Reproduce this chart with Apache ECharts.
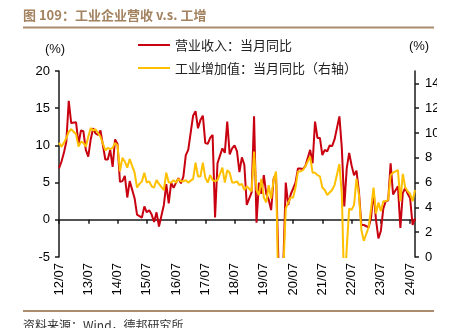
<!DOCTYPE html>
<html>
<head>
<meta charset="utf-8">
<script src="https://cdn.jsdelivr.net/npm/echarts@6/dist/echarts.min.js"></script>
<style>
  html, body { margin: 0; padding: 0; background: #fff; }
  #chart { width: 449px; height: 328px; }
</style>
</head>
<body>
<div id="chart"></div>
<script>
// Monthly categories, 2012/07 - 2024/09, labelled "YY/MM"
const months = [];
for (let y = 2012; y <= 2024; y++) {
  for (let m = 1; m <= 12; m++) {
    if (y === 2012 && m < 7) continue;
    if (y === 2024 && m > 9) break;
    months.push(String(y).slice(2) + '/' + String(m).padStart(2, '0'));
  }
}

// 营业收入：当月同比 (%), left axis; January has no separate release
const revenueYoY = [
  6.9, 7.8, 9.0, 10.5, 16.0, 13.0,
  null, 13.1, 10.2, 12.0, 11.9, 9.4, 8.5, 10.8, 12.3, 11.6, 11.4, 12.0,
  null, 8.1, 8.1, 9.4, 7.1, 10.8, 10.2, 5.1, 5.2, 5.9, 3.0, 5.2,
  null, 2.9, 0.7, 0.5, 0.3, 1.8, 1.0, 1.3, 0.7, -0.3, 1.0, -0.9,
  null, 2.0, 4.8, 2.2, 5.0, 4.3, 5.0, 5.6, 4.9, 5.8, 8.7, 9.4,
  null, 14.0, 14.6, 12.3, 13.4, 14.0, 10.3, 10.2, 11.0, 11.4, 0.3, 7.6,
  null, 9.6, 9.0, 13.2, 8.8, 9.6, 10.0, 9.2, 6.4, 8.4, 7.4, 2.0,
  null, 3.7, 13.9, -0.4, 5.0, 3.5, 6.0, 3.5, 2.7, 1.3, 5.5, 6.2,
  null, -17.7, -6.0, 5.0, 2.0, 3.4, 4.2, 5.0, 6.9, 6.9, 6.8, 7.2,
  null, 9.4, 7.6, 13.2, 11.0, 11.0, 8.7, 9.4, 9.2, 10.0, 9.9, 10.8,
  null, 13.9, 9.6, 1.8, 6.9, 9.0, 7.3, 6.0, 6.6, 3.8, -0.7, -0.7,
  null, -1.0, 0.3, 3.8, 0.0, -2.5, -1.5, 1.5, 2.5, 2.6, 7.6, 3.4,
  null, 4.5, -1.1, 3.6, 4.3, 3.5, 2.9, -0.7, 0.2
];

// 工业增加值：当月同比 (%), right axis
const valueAddedYoY = [
  9.2, 8.9, 9.2, 9.6, 10.1, 10.3,
  null, 9.9, 8.9, 9.3, 9.2, 8.9, 9.7, 10.4, 10.2, 10.3, 10.0, 9.7,
  null, 8.6, 8.8, 8.7, 8.8, 9.2, 9.0, 6.9, 8.0, 7.7, 7.2, 7.9,
  null, 6.8, 5.6, 5.9, 6.1, 6.8, 6.0, 6.1, 5.7, 5.6, 6.2, 5.9,
  null, 5.4, 6.8, 6.0, 6.0, 6.2, 6.0, 6.3, 6.1, 6.1, 6.2, 6.0,
  null, 6.3, 7.6, 6.5, 6.5, 7.6, 6.4, 6.0, 6.6, 6.2, 6.1, 6.2,
  null, 7.2, 6.0, 7.0, 6.8, 6.0, 6.0, 6.1, 5.8, 5.9, 5.4, 5.7,
  null, 5.3, 8.5, 5.4, 5.0, 6.3, 4.8, 4.4, 5.8, 4.7, 6.2, 6.9,
  null, -13.5, -1.1, 3.9, 4.4, 4.8, 4.8, 5.6, 6.9, 6.9, 7.0, 7.3,
  null, 8.1, 6.8, 6.8, 6.6, 6.5, 5.6, 5.4, 5.0, 5.2, 5.4, 5.8,
  null, 7.5, 5.0, -2.9, 0.7, 3.9, 3.8, 4.2, 6.3, 5.0, 2.2, 1.3,
  null, 2.4, 3.9, 5.6, 3.5, 4.4, 3.7, 4.5, 4.5, 4.6, 6.6, 6.8,
  null, 7.0, 4.5, 6.7, 5.6, 5.3, 5.1, 4.5, 5.4
];

const leftTicks = [-5, 0, 5, 10, 15, 20];
const rightTicks = [0, 2, 4, 6, 8, 10, 12, 14];

const seriesNames = ['营业收入：当月同比', '工业增加值：当月同比（右轴）'];
const RED = '#c8000f';
const GOLD = '#ffc000';
const BROWN = '#a3825f';
const RULE = '#ab8c6d';
const AXIS = '#1a1a1a';
const NUM_FONT = '"Liberation Sans", Arial, sans-serif';
const CJK_FONT = '"Noto Sans CJK SC", sans-serif';

const axisLine = { show: true, lineStyle: { color: AXIS, width: 1.5 } };
const axisTick = { show: true, length: 4, lineStyle: { color: AXIS, width: 1.5 } };

const chart = echarts.init(document.getElementById('chart'), null, { renderer: 'canvas' });

chart.setOption({
  animation: false,
  backgroundColor: '#fff',
  textStyle: { fontFamily: NUM_FONT },
  grid: { left: 59, right: 34, top: 71, bottom: 71, containLabel: false },
  legend: {
    orient: 'vertical',
    left: 133,
    top: 33,
    icon: 'rect',
    itemWidth: 32,
    itemHeight: 2,
    itemGap: 9,
    itemTextGap: 4,
    data: seriesNames,
    textStyle: { fontFamily: CJK_FONT, fontSize: 13, lineHeight: 14, color: '#222' }
  },
  xAxis: [
    {
      type: 'category',
      data: months,
      boundaryGap: false,
      position: 'bottom',
      axisLine: { show: false, onZero: false },
      axisTick: { show: false },
      splitLine: { show: false },
      axisLabel: { interval: 11, rotate: 90, margin: 6, fontSize: 13, color: '#000', fontFamily: NUM_FONT }
    },
    {
      type: 'category',
      data: months,
      boundaryGap: false,
      position: 'bottom',
      axisLine: { show: true, onZero: true, onZeroAxisIndex: 0, lineStyle: { color: AXIS, width: 1.5 } },
      axisTick: { show: true, interval: 11, length: 4, lineStyle: { color: AXIS, width: 1.5 } },
      axisLabel: { show: false },
      splitLine: { show: false }
    }
  ],
  yAxis: [
    {
      type: 'value',
      position: 'left',
      min: leftTicks[0],
      max: leftTicks[leftTicks.length - 1],
      interval: 5,
      axisLine: axisLine,
      axisTick: axisTick,
      splitLine: { show: false },
      axisLabel: { margin: 9, fontSize: 13, color: '#000', fontFamily: NUM_FONT }
    },
    {
      type: 'value',
      position: 'right',
      min: 0,
      max: 15,
      interval: 2,
      axisLine: axisLine,
      axisTick: Object.assign({}, axisTick, { customValues: rightTicks }),
      splitLine: { show: false },
      axisLabel: { customValues: rightTicks, margin: 10, fontSize: 13, color: '#000', fontFamily: NUM_FONT }
    }
  ],
  series: [
    {
      name: seriesNames[0],
      type: 'line',
      xAxisIndex: 0,
      yAxisIndex: 0,
      data: revenueYoY,
      symbol: 'none',
      connectNulls: true,
      clip: true,
      lineStyle: { color: RED, width: 2 },
      itemStyle: { color: RED }
    },
    {
      name: seriesNames[1],
      type: 'line',
      xAxisIndex: 0,
      yAxisIndex: 1,
      data: valueAddedYoY,
      symbol: 'none',
      connectNulls: true,
      clip: true,
      lineStyle: { color: GOLD, width: 2 },
      itemStyle: { color: GOLD }
    }
  ],
  graphic: [
    {
      type: 'text', x: 23, y: 15,
      style: { text: '图 109：工业企业营收 v.s. 工增', fill: BROWN, font: 'bold 13px ' + CJK_FONT, textVerticalAlign: 'middle' }
    },
    { type: 'rect', shape: { x: 23, y: 26.5, width: 411, height: 2 }, style: { fill: RULE } },
    { type: 'rect', shape: { x: 23, y: 310, width: 411, height: 2 }, style: { fill: RULE } },
    // right margin of the figure trims the outer edge of the right-axis labels
    { type: 'rect', z: 100, shape: { x: 437, y: 66, width: 12, height: 200 }, style: { fill: '#fff' } },
    {
      type: 'text', x: 23, y: 325,
      style: { text: '资料来源：Wind，德邦研究所', fill: '#333', font: '12px ' + CJK_FONT, textVerticalAlign: 'middle' }
    },
    {
      type: 'text', x: 55, y: 49,
      style: { text: '(%)', fill: '#111', font: '13px ' + NUM_FONT, textAlign: 'center', textVerticalAlign: 'middle' }
    },
    {
      type: 'text', x: 419, y: 46,
      style: { text: '(%)', fill: '#111', font: '13px ' + NUM_FONT, textAlign: 'center', textVerticalAlign: 'middle' }
    }
  ]
});
</script>
</body>
</html>
